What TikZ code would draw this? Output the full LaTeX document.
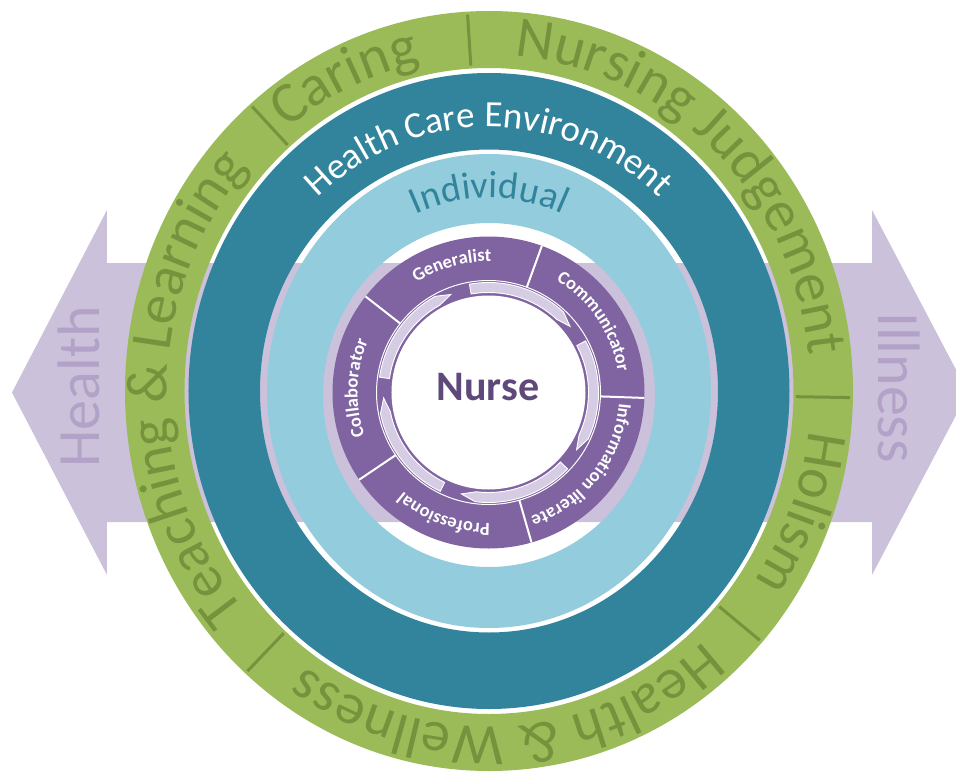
\documentclass[tikz,border=0pt]{standalone}
\usepackage{fontspec}
\setmainfont{Carlito}
\usetikzlibrary{decorations.text}
\definecolor{ringgreen}{HTML}{9BBB59}
\definecolor{gtext}{HTML}{76923C}
\definecolor{tealring}{HTML}{31849B}
\definecolor{lblue}{HTML}{93CDDD}
\definecolor{purp}{HTML}{8064A2}
\definecolor{lav}{HTML}{CCC1DA}
\definecolor{lavtext}{HTML}{B3A2C7}
\definecolor{nursecol}{HTML}{5F497A}
\definecolor{arrowfill}{HTML}{D6CDE4}
% #1 centre angle, #2 x radius, #3 y radius, #4 font, #5 colour, #6 text
\newcommand{\ringtext}[6]{%
  \pgfmathsetmacro\rtsa{#1+50}%
  \pgfmathsetmacro\rtea{#1-50}%
  \path[decorate, decoration={text along path, text color=#5, text align=center,
    text={|#4|#6}}]
    ({#2*cos(\rtsa)},{#3*sin(\rtsa)}) arc[start angle=\rtsa, end angle=\rtea, x radius=#2, y radius=#3];%
}
\tikzset{
  arrowtext/.style={font=\fontsize{60}{62}\selectfont, text=lavtext, inner sep=0pt, anchor=base},
  separator/.style={gtext, line width=3pt},
  divider/.style={white, line width=2pt},
  cyclearrow/.style={fill=arrowfill, draw=white, line width=0.9pt}
}
\begin{document}
\begin{tikzpicture}[x=1pt,y=1pt]
\useasboundingbox (-489,-381) rectangle (467,391);
\clip (-489,-381) rectangle (467,391);
\fill[white] (-489,-381) rectangle (467,391);
% double arrow Health <-> Illness
\fill[lav] (-477,-1.5) -- (-382,181) -- (-382,128) -- (383,128) -- (383,181) -- (479,-1.5)
  -- (383,-184) -- (383,-131) -- (-382,-131) -- (-382,-184) -- cycle;
\node[arrowtext, rotate=90] (health) at (-389,4) {Health};
\node[arrowtext, rotate=-90] (illness) at (389,3.5) {Illness};
% rings
\fill[ringgreen, even odd rule] (0,0) ellipse[x radius=364, y radius=380] (0,0) ellipse[x radius=304.5, y radius=323];
\fill[tealring, even odd rule] (0,0) ellipse[x radius=300.5, y radius=318] (0,0) ellipse[x radius=229, y radius=241.5];
\fill[lblue, even odd rule] (0,0) ellipse[x radius=222, y radius=237] (0,-4) ellipse[x radius=166, y radius=172];
% green ring texts
\ringtext{179.5}{322}{336}{\fontsize{58}{60}\selectfont}{gtext}{Teaching {\&} Learning}
\ringtext{115}{322}{336}{\fontsize{58}{60}\selectfont}{gtext}{Caring}
\ringtext{46}{322}{336}{\fontsize{58}{60}\selectfont}{gtext}{Nursing Judgement}
\ringtext{-21}{322}{336}{\fontsize{58}{60}\selectfont}{gtext}{Holism}
\ringtext{-86.5}{322}{336}{\fontsize{58}{60}\selectfont}{gtext}{Health {\&} Wellness}
\foreach \a in {131,93.4,-1,-41.4,228}
  \draw[separator] ({307*cos(\a)},{326*sin(\a)}) -- ({361*cos(\a)},{377*sin(\a)});
% teal and light blue texts
\ringtext{90}{251}{264}{\fontsize{37}{39}\selectfont}{white}{Health Care Environment}
\ringtext{90}{183}{193}{\fontsize{38}{40}\selectfont}{tealring}{Individual}
% nurse wheel
\begin{scope}[shift={(-0.5,-1.5)}]
  \fill[purp] (0,0) circle[radius=156];
  \fill[white] (0,0) circle[radius=97];
  \foreach \c in {34,106,178,250,322} {
    \pgfmathsetmacro\ta{\c-6}
    \pgfmathsetmacro\ha{\c-59}
    \pgfmathsetmacro\pa{\c-67}
    \filldraw[cyclearrow] (\ta:110) arc[start angle=\ta, end angle=\ha, radius=110]
      -- (\pa:105) -- (\ha:100) arc[start angle=\ha, end angle=\ta, radius=100] -- cycle;
  }
  \draw[white, line width=1pt] (0,0) circle[radius=112];
  \foreach \a in {-2,70,142,214,286}
    \draw[divider] (\a:112) -- (\a:156);
  \ringtext{106}{131}{131}{\bfseries\fontsize{18.5}{20}\selectfont}{white}{Generalist}
  \ringtext{34}{131}{131}{\bfseries\fontsize{18.5}{20}\selectfont}{white}{Communicator}
  \ringtext{-38}{131}{131}{\bfseries\fontsize{18.5}{20}\selectfont}{white}{Information literate}
  \ringtext{-110}{131}{131}{\bfseries\fontsize{18.5}{20}\selectfont}{white}{Professional}
  \ringtext{178}{131}{131}{\bfseries\fontsize{18.5}{20}\selectfont}{white}{Collaborator}
\end{scope}
\node[font=\bfseries\fontsize{42}{44}\selectfont, text=nursecol, inner sep=0pt] (nurse) at (-1,3.5) {Nurse};
\end{tikzpicture}
\end{document}
